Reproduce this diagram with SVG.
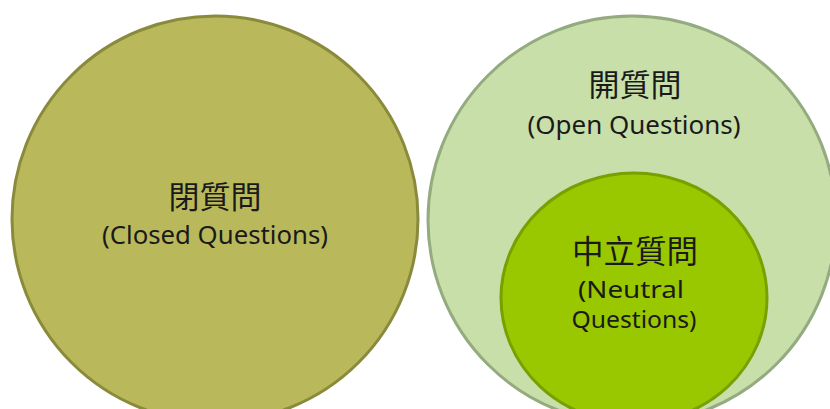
<svg xmlns="http://www.w3.org/2000/svg" width="830" height="409" viewBox="0 0 830 409">
  <style>
    .cjk { font-family: "Noto Sans CJK TC", "Noto Sans CJK JP", sans-serif; font-size: 31px; fill: #1a1a1a; text-anchor: middle; }
    .en { font-family: "Noto Sans", "Open Sans", sans-serif; font-size: 26px; fill: #1a1a1a; text-anchor: middle; }
  </style>
  <rect width="830" height="409" fill="#ffffff"/>
  <g id="closed">
    <circle cx="215" cy="219" r="203" fill="#b9b95b" stroke="#8a8a3c" stroke-width="3"/>
    <text class="cjk" x="215" y="208">閉質問</text>
    <text class="en" x="215" y="244" textLength="226" lengthAdjust="spacingAndGlyphs">(Closed Questions)</text>
  </g>
  <g id="open">
    <circle cx="632" cy="220" r="204" fill="#c8dfa9" stroke="#94ab80" stroke-width="3"/>
    <text class="cjk" x="635" y="96">開質問</text>
    <text class="en" x="634" y="134" textLength="213" lengthAdjust="spacingAndGlyphs">(Open Questions)</text>
  </g>
  <g id="neutral">
    <ellipse cx="634" cy="298" rx="133" ry="125" fill="#99c800" stroke="#77a000" stroke-width="3"/>
    <text class="cjk" x="635" y="263" style="font-size:31.5px">中立質問</text>
    <text class="en" x="631" y="298" style="font-size:24px" textLength="106" lengthAdjust="spacingAndGlyphs">(Neutral</text>
    <text class="en" x="634" y="328" style="font-size:24px" textLength="125" lengthAdjust="spacingAndGlyphs">Questions)</text>
  </g>
  <g id="connectors"/>
</svg>
